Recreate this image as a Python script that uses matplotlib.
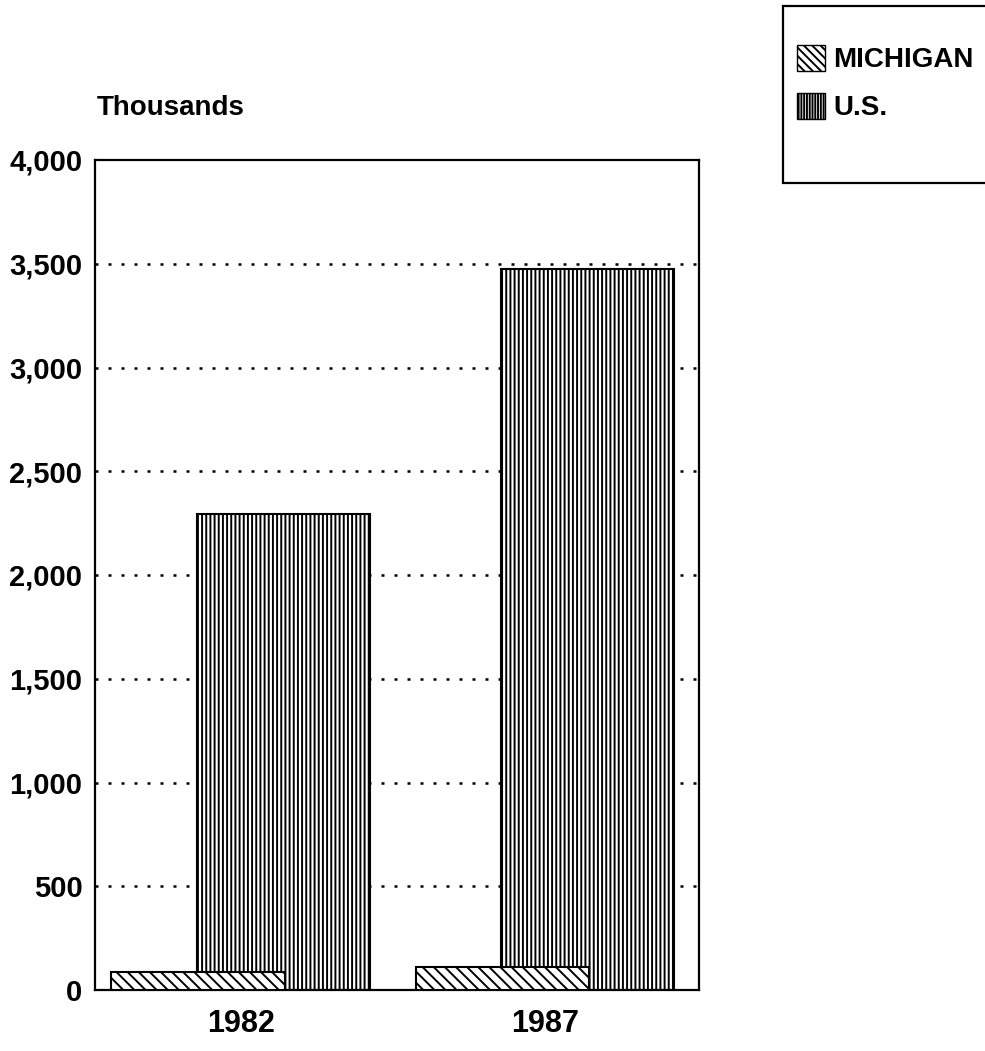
import numpy as np
import matplotlib.pyplot as plt
from matplotlib.patches import Patch, Rectangle

years = ['1982', '1987']
michigan = [85, 110]
us = [2295, 3475]
yticks = [0, 500, 1000, 1500, 2000, 2500, 3000, 3500, 4000]

plt.rcParams['font.family'] = ['Liberation Sans', 'DejaVu Sans']
plt.rcParams['font.weight'] = 'bold'
plt.rcParams['hatch.linewidth'] = 1.4

fig = plt.figure(figsize=(9.85, 10.51), dpi=100)
ax = fig.add_axes([95 / 985, 1 - 990 / 1051, (699 - 95) / 985, (990 - 160) / 1051])

x = np.arange(len(years))
width = 0.57
off = 0.14

# dotted grid behind the bars
for y in yticks[1:-1]:
    ax.axhline(y, color='black', linestyle=(0, (1.2, 4)), linewidth=1.8, zorder=1)

ax.bar(x + off, us, width, facecolor='white', edgecolor='black', hatch='||||',
       linewidth=1.5, zorder=2, label='U.S.')
ax.bar(x - off, michigan, width, facecolor='white', edgecolor='black', hatch='\\\\\\',
       linewidth=1.5, zorder=3, label='MICHIGAN')

ax.set_xlim(-0.479, 1.507)
ax.set_ylim(0, 4000)
ax.set_xticks(x)
ax.set_xticklabels(years, fontsize=22)
ax.set_yticks(yticks)
ax.set_yticklabels(['{:,}'.format(v) for v in yticks], fontsize=21)
ax.tick_params(length=0)
ax.tick_params(axis='y', pad=9)
ax.tick_params(axis='x', pad=14)
for s in ax.spines.values():
    s.set_linewidth(1.6)

fig.text(97 / 985, 1 - 108 / 1051, 'Thousands', fontsize=20, va='center', ha='left')

# legend box runs off the right edge
fig.patches.append(Rectangle((783 / 985, 1 - 183 / 1051), 0.3, 177 / 1051, transform=fig.transFigure,
                             facecolor='white', edgecolor='black', linewidth=1.6, zorder=0))
handles = [Patch(facecolor='white', edgecolor='black', hatch='\\\\\\\\', label='MICHIGAN'),
           Patch(facecolor='white', edgecolor='black', hatch='||||||', label='U.S.')]
leg = fig.legend(handles=handles, loc='upper left', bbox_to_anchor=(797 / 985, 1 - 45 / 1051),
                 fontsize=20, handlelength=1.0, handleheight=1.05, handletextpad=0.3,
                 borderpad=0, labelspacing=0.7, borderaxespad=0, frameon=False)

fig.savefig('out.png', dpi=100)
